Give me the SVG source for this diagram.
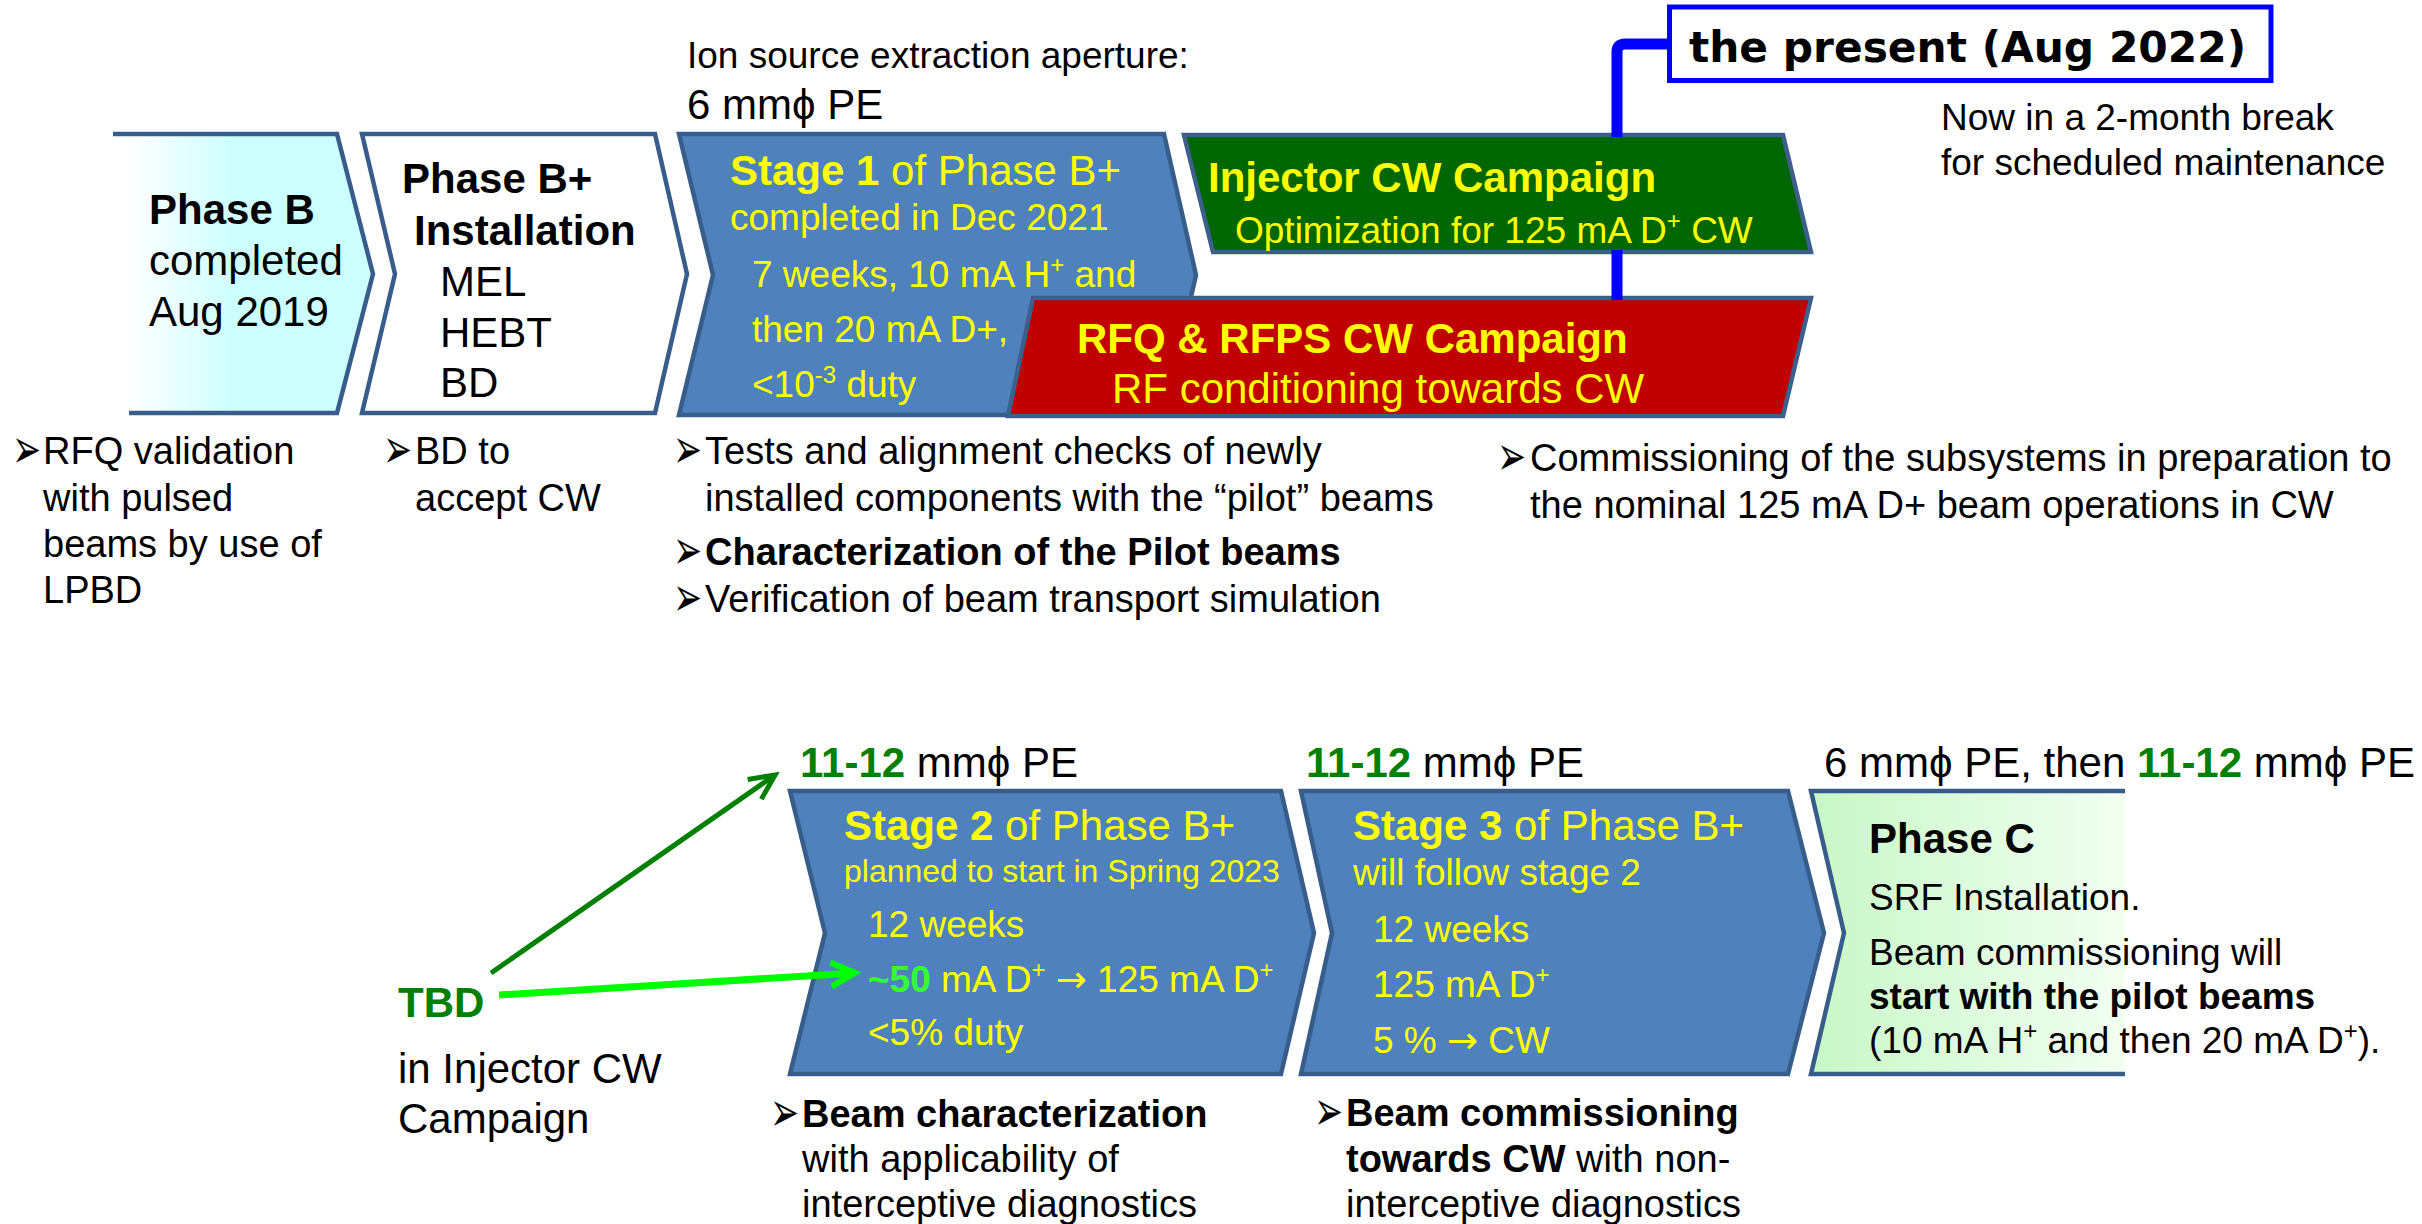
<svg xmlns="http://www.w3.org/2000/svg" width="2422" height="1224" viewBox="0 0 2422 1224">
  <defs>
    <style>
      text { font-family: "Liberation Sans", Arial, sans-serif; fill: #000; }
      .b { font-weight: bold; }
      .y { fill: #ffff00; }
      .g { fill: #008000; }
      .lg { fill: #33ff33; }
      .f42 { font-size: 42px; }
      .f38 { font-size: 38px; }
      .f37 { font-size: 37px; }
      .f32 { font-size: 32px; }
      .bul { font-family: "DejaVu Sans", sans-serif; font-size: 56px; }
      .arr { font-family: "DejaVu Sans", sans-serif; }
      .stage { fill: #4f81bd; stroke: #385d8a; stroke-width: 4.5; stroke-linejoin: miter; }
      .edge { fill: none; stroke: #385d8a; stroke-width: 4.5; }
    </style>
    <linearGradient id="gradB" gradientUnits="userSpaceOnUse" x1="129" y1="0" x2="235" y2="0">
      <stop offset="0" stop-color="#ffffff"/>
      <stop offset="1" stop-color="#ccffff"/>
    </linearGradient>
    <linearGradient id="gradC" gradientUnits="userSpaceOnUse" x1="1811" y1="0" x2="2125" y2="0">
      <stop offset="0" stop-color="#c8f7c8"/>
      <stop offset="1" stop-color="#f2fff2"/>
    </linearGradient>
    <marker id="headDark" viewBox="-30 -16 34 32" refX="0" refY="0" markerWidth="34" markerHeight="32" markerUnits="userSpaceOnUse" orient="auto" overflow="visible">
      <path d="M-25,-12 L0,0 L-25,12" fill="none" stroke="#008000" stroke-width="5" stroke-linecap="butt" stroke-linejoin="miter"/>
    </marker>
    <marker id="headLight" viewBox="-30 -16 34 32" refX="0" refY="0" markerWidth="34" markerHeight="32" markerUnits="userSpaceOnUse" orient="auto" overflow="visible">
      <path d="M-24,-12 L0,0 L-24,12" fill="none" stroke="#00ff00" stroke-width="6" stroke-linecap="butt" stroke-linejoin="miter"/>
    </marker>
  </defs>

  <rect x="0" y="0" width="2422" height="1224" fill="#ffffff"/>

  <!-- aperture note above stage 1 -->
  <g id="aperture-top">
    <text class="f37" x="687" y="68">Ion source extraction aperture:</text>
    <text class="f42" x="687" y="119">6 mmϕ PE</text>
  </g>

  <!-- Phase B -->
  <g id="phase-b">
    <polygon points="129,134 337,134 373,274 337,413 129,413" fill="url(#gradB)"/>
    <path class="edge" d="M113,134 H337 L373,274 L337,413 H129"/>
    <text class="f42 b" x="149" y="224">Phase B</text>
    <text class="f42" x="149" y="275">completed</text>
    <text class="f42" x="149" y="326">Aug 2019</text>
  </g>

  <!-- Phase B+ installation -->
  <g id="phase-bplus">
    <polygon points="362,134 655,134 687,274 655,413 362,413 395,274" fill="#ffffff" stroke="#385d8a" stroke-width="4.5"/>
    <text class="f42 b" x="402" y="193">Phase B+</text>
    <text class="f42 b" x="414" y="245">Installation</text>
    <text class="f42" x="440" y="296">MEL</text>
    <text class="f42" x="440" y="347">HEBT</text>
    <text class="f42" x="440" y="397">BD</text>
  </g>

  <!-- Stage 1 -->
  <g id="stage-1">
    <polygon class="stage" points="679,134 1164,134 1196,275 1164,415 679,415 713,275"/>
    <text class="f42 y" x="730" y="185"><tspan class="b">Stage 1</tspan> of Phase B+</text>
    <text class="f37 y" x="730" y="230">completed in Dec 2021</text>
    <text class="f37 y" x="752" y="287">7 weeks, 10 mA H<tspan font-size="24" dy="-14">+</tspan><tspan dy="14"> and</tspan></text>
    <text class="f37 y" x="752" y="342">then 20 mA D+,</text>
    <text class="f37 y" x="752" y="397">&lt;10<tspan font-size="24" dy="-14">-3</tspan><tspan dy="14"> duty</tspan></text>
  </g>

  <!-- Injector CW campaign -->
  <g id="injector-cw">
    <polygon points="1184,135 1783,135 1811,252 1213,252" fill="#006600" stroke="#3c5f8c" stroke-width="4.5"/>
    <text class="f42 b y" x="1208" y="192">Injector CW Campaign</text>
    <text class="f37 y" x="1235" y="243">Optimization for 125 mA D<tspan font-size="24" dy="-14">+</tspan><tspan dy="14"> CW</tspan></text>
  </g>

  <!-- RFQ & RFPS CW campaign -->
  <g id="rfq-rfps-cw">
    <polygon points="1033,298 1811,298 1783,416 1008,416" fill="#c00000" stroke="#3c5f8c" stroke-width="4.5"/>
    <text class="f42 b y" x="1077" y="353">RFQ &amp; RFPS CW Campaign</text>
    <text class="f42 y" x="1112" y="403">RF conditioning towards CW</text>
  </g>

  <!-- present marker -->
  <g id="present">
    <rect x="1669.5" y="7" width="601.5" height="73.5" fill="#ffffff" stroke="#0000ff" stroke-width="5"/>
    <text style="font-family:'DejaVu Sans',sans-serif" font-size="42" font-weight="bold" x="1689" y="62" textLength="557" lengthAdjust="spacingAndGlyphs">the present (Aug 2022)</text>
  </g>

  <g id="break-note">
    <text class="f37" x="1941" y="130">Now in a 2-month break</text>
    <text class="f37" x="1941" y="175">for scheduled maintenance</text>
  </g>

  <!-- bullet notes, upper row -->
  <g id="notes-phase-b">
    <text class="bul" transform="translate(12,468) scale(0.62,1)">➢</text>
    <text class="f38" x="43" y="464">RFQ validation</text>
    <text class="f38" x="43" y="511">with pulsed</text>
    <text class="f38" x="43" y="557">beams by use of</text>
    <text class="f38" x="43" y="603">LPBD</text>
  </g>
  <g id="notes-phase-bplus">
    <text class="bul" transform="translate(383,468) scale(0.62,1)">➢</text>
    <text class="f38" x="415" y="464">BD to</text>
    <text class="f38" x="415" y="511">accept CW</text>
  </g>
  <g id="notes-stage-1">
    <text class="bul" transform="translate(673,468) scale(0.62,1)">➢</text>
    <text class="f38" x="705" y="464">Tests and alignment checks of newly</text>
    <text class="f38" x="705" y="511">installed components with the “pilot” beams</text>
    <text class="bul" transform="translate(673,569) scale(0.62,1)">➢</text>
    <text class="f38 b" x="705" y="565">Characterization of the Pilot beams</text>
    <text class="bul" transform="translate(673,616) scale(0.62,1)">➢</text>
    <text class="f38" x="705" y="612">Verification of beam transport simulation</text>
  </g>
  <g id="notes-campaigns">
    <text class="bul" transform="translate(1497,475) scale(0.62,1)">➢</text>
    <text class="f38" x="1530" y="471">Commissioning of the subsystems in preparation to</text>
    <text class="f38" x="1530" y="518">the nominal 125 mA D+ beam operations in CW</text>
  </g>

  <!-- aperture notes, lower row -->
  <g id="aperture-bottom">
    <text class="f42" x="800" y="777"><tspan class="b g">11-12</tspan> mmϕ PE</text>
    <text class="f42" x="1306" y="777"><tspan class="b g">11-12</tspan> mmϕ PE</text>
    <text class="f42" x="1824" y="777">6 mmϕ PE, then <tspan class="b g">11-12</tspan> mmϕ PE</text>
  </g>

  <!-- TBD -->
  <g id="tbd">
    <text class="f42 b g" x="398" y="1017">TBD</text>
    <text class="f42" x="398" y="1083">in Injector CW</text>
    <text class="f42" x="398" y="1133">Campaign</text>
  </g>

  <!-- Stage 2 -->
  <g id="stage-2">
    <polygon class="stage" points="790,791 1281,791 1314,933 1281,1074 790,1074 825,933"/>
    <text class="f42 y" x="844" y="840"><tspan class="b">Stage 2</tspan> of Phase B+</text>
    <text class="f32 y" x="844" y="882">planned to start in Spring 2023</text>
    <text class="f37 y" x="868" y="937">12 weeks</text>
    <text class="f37 y" x="868" y="992"><tspan class="b lg">~50</tspan> mA D<tspan font-size="24" dy="-14">+</tspan><tspan dy="14"> </tspan><tspan class="arr">→</tspan> 125 mA D<tspan font-size="24" dy="-14">+</tspan></text>
    <text class="f37 y" x="868" y="1045">&lt;5% duty</text>
  </g>

  <!-- Stage 3 -->
  <g id="stage-3">
    <polygon class="stage" points="1301,791 1788,791 1824,933 1788,1074 1301,1074 1332,933"/>
    <text class="f42 y" x="1353" y="840"><tspan class="b">Stage 3</tspan> of Phase B+</text>
    <text class="f37 y" x="1353" y="885">will follow stage 2</text>
    <text class="f37 y" x="1373" y="942">12 weeks</text>
    <text class="f37 y" x="1373" y="997">125 mA D<tspan font-size="24" dy="-14">+</tspan></text>
    <text class="f37 y" x="1373" y="1053">5 % <tspan class="arr">→</tspan> CW</text>
  </g>

  <!-- Phase C -->
  <g id="phase-c">
    <polygon points="1811,791 2125,791 2125,1074 1811,1074 1844,933" fill="url(#gradC)"/>
    <path class="edge" d="M2125,791 H1811 L1844,933 L1811,1074 H2125"/>
    <text class="f42 b" x="1869" y="853">Phase C</text>
    <text class="f37" x="1869" y="910">SRF Installation.</text>
    <text class="f37" x="1869" y="965">Beam commissioning will</text>
    <text class="f37 b" x="1869" y="1009">start with the pilot beams</text>
    <text class="f37" x="1869" y="1053">(10 mA H<tspan font-size="24" dy="-14">+</tspan><tspan dy="14"> and then 20 mA D</tspan><tspan font-size="24" dy="-14">+</tspan><tspan dy="14">).</tspan></text>
  </g>

  <!-- bullet notes, lower row -->
  <g id="notes-stage-2">
    <text class="bul" transform="translate(770,1131) scale(0.62,1)">➢</text>
    <text class="f38 b" x="802" y="1127">Beam characterization</text>
    <text class="f38" x="802" y="1172">with applicability of</text>
    <text class="f38" x="802" y="1217">interceptive diagnostics</text>
  </g>
  <g id="notes-stage-3">
    <text class="bul" transform="translate(1314,1130) scale(0.62,1)">➢</text>
    <text class="f38 b" x="1346" y="1126">Beam commissioning</text>
    <text class="f38" x="1346" y="1172"><tspan class="b">towards CW</tspan> with non-</text>
    <text class="f38" x="1346" y="1217">interceptive diagnostics</text>
  </g>

  <!-- connectors -->
  <g id="connectors" fill="none">
    <path d="M1617,137 V52 Q1617,44 1625,44 H1669" stroke="#0000ff" stroke-width="11" stroke-linejoin="round"/>
    <path d="M1617,250 V300" stroke="#0000ff" stroke-width="11"/>
    <line x1="491" y1="973" x2="775" y2="775" stroke="#008000" stroke-width="5" marker-end="url(#headDark)"/>
    <line x1="499" y1="995" x2="855" y2="973" stroke="#00ff00" stroke-width="7" marker-end="url(#headLight)"/>
  </g>
</svg>
